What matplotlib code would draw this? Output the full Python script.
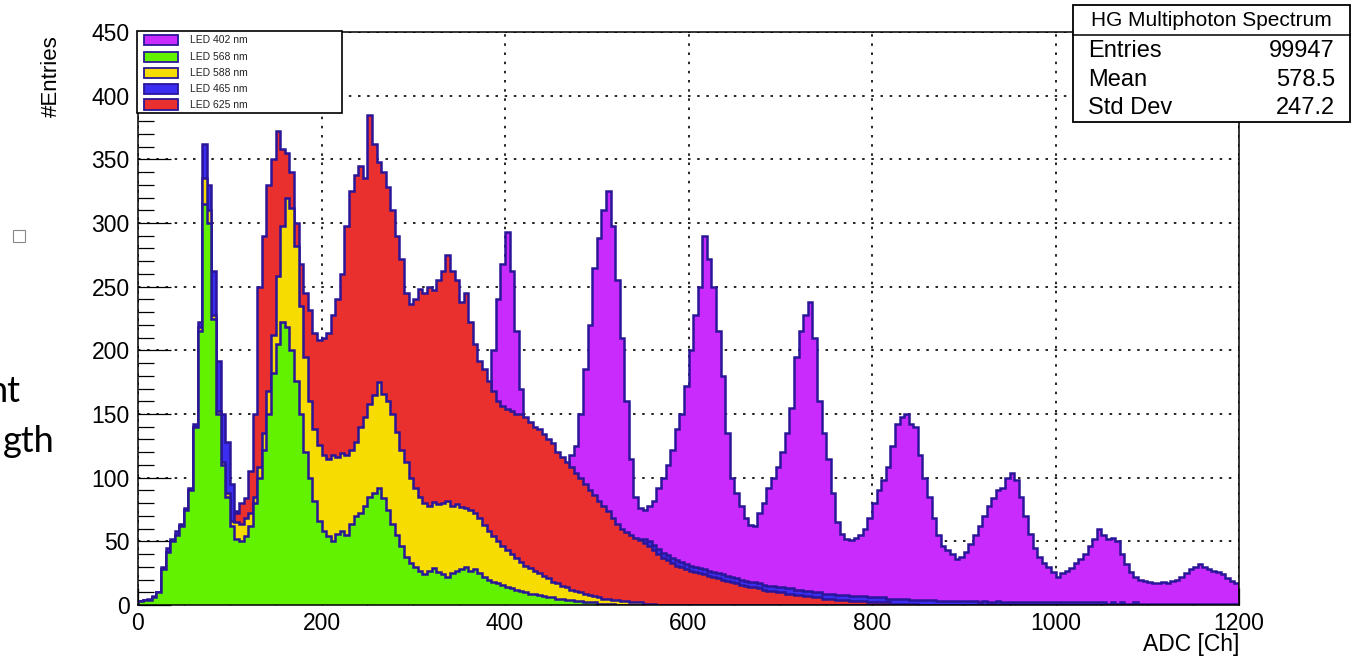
import matplotlib.pyplot as plt
import numpy as np
from matplotlib.patches import Rectangle
from matplotlib.lines import Line2D
from matplotlib.ticker import MultipleLocator

plt.rcParams['font.family'] = ['Liberation Sans', 'DejaVu Sans']

# 5-channel bins, 0..1200 ADC
edges = np.arange(0, 1201, 5)

led_402 = [
    1, 2, 3, 4, 6, 15, 25, 30, 35, 40, 45, 55, 80, 120, 180, 170, 130, 100, 80, 62,
    50, 45, 45, 48, 52, 60, 70, 80, 90, 100, 110, 115, 118, 118, 115, 112, 110, 112, 115, 120,
    125, 130, 135, 140, 145, 150, 155, 158, 160, 162, 160, 158, 156, 160, 168, 175, 185, 190, 185, 175,
    165, 160, 155, 150, 148, 150, 155, 160, 162, 160, 158, 155, 150, 148, 150, 152, 170, 200, 240, 268,
    293, 262, 215, 170, 140, 130, 122, 118, 115, 112, 110, 108, 108, 110, 118, 125, 150, 185, 220, 265,
    288, 310, 325, 298, 255, 210, 160, 115, 85, 76, 75, 78, 82, 92, 100, 110, 122, 138, 150, 172,
    200, 228, 250, 290, 272, 250, 215, 180, 135, 100, 88, 78, 68, 63, 62, 72, 80, 92, 100, 108,
    120, 135, 155, 195, 215, 228, 238, 210, 160, 135, 115, 88, 65, 56, 52, 51, 53, 55, 60, 68,
    80, 90, 98, 108, 125, 142, 148, 150, 142, 140, 118, 100, 85, 68, 55, 46, 43, 40, 36, 38,
    42, 48, 55, 62, 70, 78, 84, 90, 92, 100, 104, 98, 85, 70, 56, 45, 38, 33, 30, 26,
    22, 25, 27, 29, 33, 36, 40, 46, 52, 60, 55, 52, 53, 50, 40, 32, 26, 22, 20, 19,
    18, 17, 17, 18, 17, 19, 20, 22, 25, 28, 30, 32, 30, 28, 27, 26, 24, 21, 19, 17,
]
led_465 = [
    3, 4, 5, 7, 10, 30, 45, 52, 58, 64, 76, 92, 142, 222, 362, 330, 262, 192, 150, 128,
    95, 74, 70, 72, 80, 90, 100, 110, 130, 150, 170, 185, 190, 185, 175, 160, 145, 135, 130, 130,
    135, 140, 150, 160, 170, 180, 185, 185, 180, 175, 170, 165, 160, 160, 165, 170, 175, 175, 170, 165,
    160, 155, 150, 148, 150, 152, 150, 146, 140, 135, 130, 125, 120, 118, 116, 112, 110, 106, 104, 102,
    100, 98, 96, 94, 92, 90, 88, 86, 84, 82, 80, 78, 76, 74, 72, 70, 68, 66, 64, 62,
    60, 58, 56, 54, 52, 50, 50, 51, 52, 52, 52, 50, 47, 44, 41, 39, 37, 35, 34, 32,
    31, 30, 29, 28, 27, 26, 25, 24, 23, 22, 21, 20, 19, 18, 18, 17, 16, 15, 15, 14,
    14, 13, 13, 12, 12, 11, 11, 10, 10, 9, 9, 9, 8, 8, 8, 7, 7, 7, 7, 6,
    6, 6, 6, 5, 5, 5, 5, 5, 4, 4, 4, 4, 4, 4, 3, 3, 3, 3, 3, 3,
    3, 3, 3, 2, 3, 2, 2, 3, 2, 2, 2, 2, 2, 2, 2, 2, 2, 2, 2, 2,
    2, 2, 2, 2, 2, 2, 2, 2, 2, 2, 2, 1, 2, 1, 2, 1, 1, 2, 1, 1,
    1, 1, 1, 1, 1, 1, 1, 1, 1, 1, 1, 1, 1, 1, 1, 1, 1, 1, 1, 1,
]
led_625 = [
    2, 3, 3, 5, 8, 20, 30, 40, 45, 50, 55, 65, 90, 140, 200, 190, 150, 110, 85, 70,
    62, 72, 80, 84, 105, 150, 250, 290, 330, 350, 372, 358, 355, 340, 300, 268, 245, 232, 214, 208,
    210, 214, 228, 240, 260, 298, 325, 338, 345, 335, 385, 362, 348, 340, 328, 310, 290, 272, 245, 236,
    240, 248, 245, 250, 247, 255, 262, 275, 262, 255, 238, 245, 222, 205, 192, 185, 176, 168, 160, 156,
    154, 152, 150, 150, 148, 144, 140, 138, 134, 130, 127, 120, 116, 112, 108, 104, 100, 95, 90, 86,
    82, 78, 74, 68, 64, 60, 57, 55, 53, 51, 49, 46, 43, 40, 37, 35, 33, 31, 30, 28,
    27, 26, 25, 24, 23, 22, 21, 20, 19, 18, 17, 16, 15, 14, 14, 13, 12, 11, 11, 10,
    10, 9, 9, 8, 8, 7, 7, 6, 6, 5, 5, 5, 4, 4, 4, 3, 3, 3, 3, 2,
    2, 2, 2, 2, 1, 1, 1, 1, 1, 1, 0, 0, 0, 0, 0, 0, 0, 0, 0, 0,
] + [0] * 60
led_588 = [
    3, 4, 4, 6, 10, 28, 42, 50, 55, 62, 75, 90, 140, 218, 335, 310, 228, 152, 112, 88,
    66, 65, 64, 68, 72, 85, 108, 135, 168, 212, 258, 298, 320, 312, 282, 235, 195, 160, 138, 126,
    118, 115, 118, 116, 119, 118, 122, 128, 140, 148, 158, 165, 175, 166, 160, 150, 136, 122, 112, 100,
    92, 85, 80, 78, 81, 79, 80, 82, 78, 79, 77, 76, 75, 72, 68, 63, 58, 54, 50, 46,
    43, 40, 37, 34, 31, 29, 27, 25, 23, 21, 18, 17, 15, 14, 12, 11, 10, 9, 8, 7,
    6, 5, 5, 4, 4, 3, 3, 2, 2, 2, 1, 1, 1, 0, 0, 0, 0, 0, 0, 0,
] + [0] * 120
led_568 = [
    3, 4, 4, 6, 10, 28, 42, 50, 55, 62, 75, 90, 140, 215, 315, 300, 225, 150, 110, 85,
    62, 52, 50, 54, 62, 80, 100, 122, 150, 182, 205, 222, 218, 200, 176, 150, 120, 100, 82, 66,
    58, 54, 50, 56, 58, 55, 64, 70, 72, 78, 85, 88, 92, 84, 75, 64, 55, 46, 38, 33,
    30, 27, 24, 27, 29, 26, 24, 22, 25, 27, 28, 30, 27, 28, 25, 22, 20, 18, 17, 16,
    14, 13, 12, 11, 10, 9, 9, 8, 7, 6, 6, 5, 5, 4, 4, 3, 3, 2, 2, 2,
    1, 1, 1, 1, 0, 0, 0, 0, 0, 0, 0, 0, 0, 0, 0, 0, 0, 0, 0, 0,
] + [0] * 120

legend_labels = ['LED 402 nm', 'LED 568 nm', 'LED 588 nm', 'LED 465 nm', 'LED 625 nm']
stats_title = 'HG Multiphoton Spectrum'
stats_rows = [('Entries', '99947'), ('Mean', '578.5'), ('Std Dev', '247.2')]

LINE = '#2a1699'
colors = {'LED 402 nm': '#c92bfd', 'LED 465 nm': '#3b2ef0', 'LED 625 nm': '#e9302f',
          'LED 588 nm': '#f6dc00', 'LED 568 nm': '#62f200'}

W, H = 1352, 659
fig = plt.figure(figsize=(W / 100, H / 100), dpi=100)
ax = fig.add_axes([138 / W, 1 - 605 / H, (1239 - 138) / W, (605 - 32) / H])


def fx(x):
    return x / W


def fy(y):
    return 1 - y / H


# back to front, as drawn in the original
order = [('LED 402 nm', led_402), ('LED 465 nm', led_465), ('LED 625 nm', led_625),
         ('LED 588 nm', led_588), ('LED 568 nm', led_568)]
for i, (name, vals) in enumerate(order):
    ax.stairs(vals, edges, fill=True, color=colors[name], lw=0, zorder=2 + i)
    ax.stairs(vals, edges, color=LINE, lw=1.8, zorder=2.5 + i)

ax.set_xlim(0, 1200)
ax.set_ylim(0, 450)
ax.xaxis.set_major_locator(MultipleLocator(200))
ax.xaxis.set_minor_locator(MultipleLocator(50))
ax.yaxis.set_major_locator(MultipleLocator(50))
ax.yaxis.set_minor_locator(MultipleLocator(10))
ax.tick_params(axis='y', which='major', direction='in', length=24, width=0.9, labelsize=16.5, pad=6)
ax.tick_params(axis='y', which='minor', direction='in', length=11.5, width=0.9)
ax.tick_params(axis='x', which='major', direction='in', length=12, width=0.9, labelsize=16.5, pad=5)
ax.tick_params(axis='x', which='minor', direction='in', length=6, width=0.9)
ax.set_axisbelow(True)
ax.grid(True, which='major', color='k', ls=(0, (1.5, 4)), lw=1.2, zorder=1)
for s in ax.spines.values():
    s.set_linewidth(1.1)
    s.set_zorder(20)

fig.text(fx(1239), fy(651), 'ADC [Ch]', ha='right', va='baseline', fontsize=16.5)
fig.text(fx(51), fy(35), '#Entries', rotation=90, ha='center', va='top', fontsize=16)

# legend box
fig.add_artist(Rectangle((fx(137), fy(113)), fx(342) - fx(137), fy(31) - fy(113),
                         facecolor='white', edgecolor='black', lw=1.2, zorder=30))
row_y = [40, 56.5, 72.5, 88.5, 104.5]
for lab, yy in zip(legend_labels, row_y):
    fig.add_artist(Rectangle((fx(144), fy(yy + 5)), fx(178) - fx(144), fy(yy - 5) - fy(yy + 5),
                             facecolor=colors[lab], edgecolor=LINE, lw=1.3, zorder=31))
    fig.text(fx(190), fy(yy), lab, ha='left', va='center', fontsize=7.5, color='#222222', zorder=32)

# stats box
fig.add_artist(Rectangle((fx(1073), fy(122)), fx(1350) - fx(1073), fy(5) - fy(122),
                         facecolor='white', edgecolor='black', lw=1.3, zorder=30))
fig.add_artist(Line2D([fx(1073), fx(1350)], [fy(35), fy(35)], color='black', lw=1.1, zorder=31))
fig.text(fx(1211), fy(20), stats_title, ha='center', va='center', fontsize=15, zorder=32)
for (k, v), yy in zip(stats_rows, [51, 80, 108]):
    fig.text(fx(1088), fy(yy), k, ha='left', va='center', fontsize=17, zorder=32)
    fig.text(fx(1335), fy(yy), v, ha='right', va='center', fontsize=17, zorder=32)

# bits of the slide behind the screenshot
fig.text(fx(20), fy(402), 'nt', ha='right', va='baseline', fontsize=26, family=['Lato', 'DejaVu Sans'])
fig.text(fx(55), fy(452), 'gth', ha='right', va='baseline', fontsize=26, family=['Lato', 'DejaVu Sans'])
fig.add_artist(Rectangle((fx(13), fy(242)), 12 / W, 12 / H, facecolor='white',
                         edgecolor='#888888', lw=0.8))

fig.savefig('out.png', dpi=100)
